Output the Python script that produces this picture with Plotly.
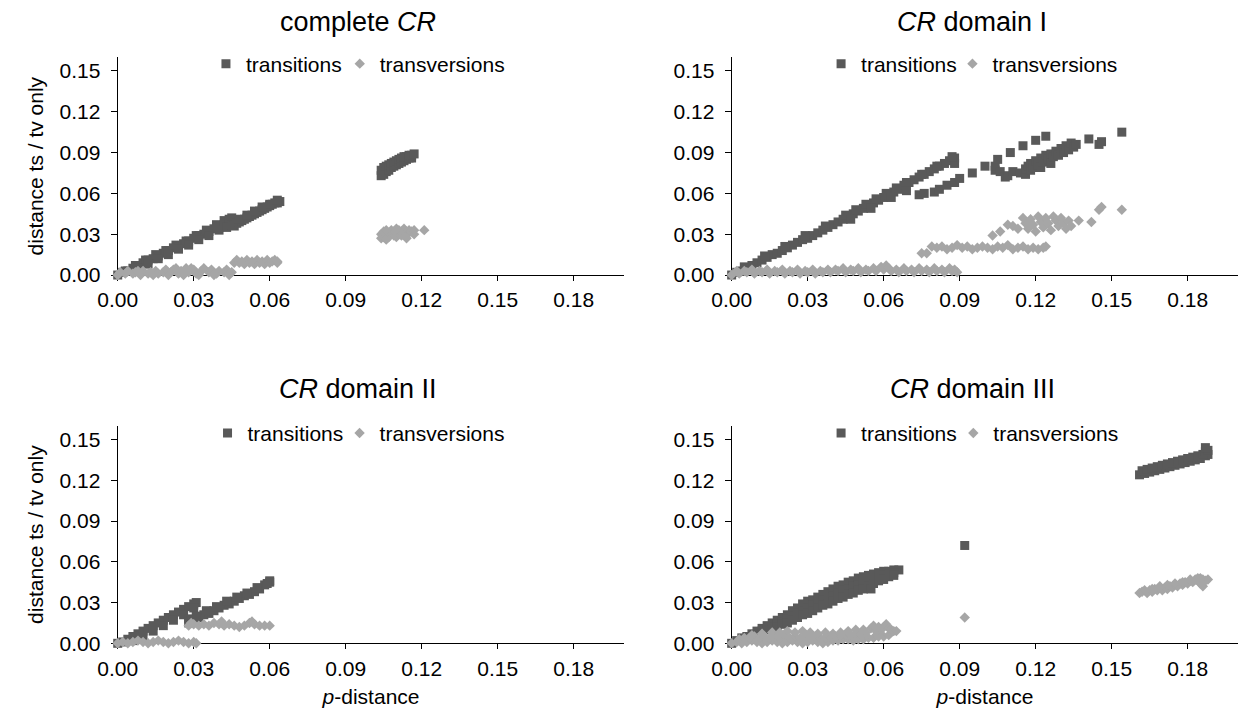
import plotly.graph_objects as go

# ---------------- data ----------------
# complete CR
cr_ts_x = [0.000,0.002,0.004,0.006,0.008,0.010,0.012,0.014,0.016,0.018,0.020,0.022,0.024,0.026,0.028,0.030,0.032,0.034,0.036,0.038,0.040,0.042,0.044,
           0.003,0.007,0.011,0.015,0.019,0.023,0.027,0.031,0.035,0.039,0.042,0.044,0.045,
           0.008,0.012,0.016,0.020,0.024,0.028,0.032,0.036,0.040,0.043,
           0.045,0.046,0.047,0.048,0.049,0.050,0.051,0.052,0.053,0.054,0.055,0.056,0.057,0.058,0.059,0.060,0.061,0.062,0.063,0.064,
           0.048,0.051,0.054,0.057,0.060,0.063,
           0.104,0.104,0.105,0.105,0.106,0.106,0.107,0.107,0.108,0.108,0.109,0.109,0.110,0.110,0.111,0.111,0.112,0.112,0.113,0.113,0.114,0.114,0.115,0.115,0.116,0.116,0.117,0.117,0.121]
cr_ts_y = [0.000,0.002,0.003,0.005,0.007,0.009,0.011,0.012,0.014,0.016,0.018,0.020,0.021,0.023,0.025,0.027,0.029,0.030,0.032,0.034,0.035,0.037,0.038,
           0.003,0.007,0.011,0.015,0.018,0.022,0.025,0.029,0.033,0.037,0.040,0.041,0.042,
           0.005,0.008,0.012,0.015,0.019,0.022,0.026,0.029,0.033,0.035,
           0.037,0.036,0.038,0.039,0.040,0.041,0.042,0.043,0.044,0.045,0.046,0.047,0.048,0.049,0.050,0.051,0.052,0.053,0.053,0.054,
           0.041,0.044,0.047,0.050,0.052,0.055,
           0.073,0.077,0.074,0.079,0.076,0.080,0.077,0.081,0.079,0.082,0.080,0.083,0.081,0.084,0.082,0.085,0.083,0.086,0.084,0.087,0.085,0.087,0.086,0.088,0.086,0.088,0.089]
cr_tv_x = [0.000,0.001,0.003,0.004,0.006,0.007,0.009,0.010,0.012,0.013,0.015,0.016,0.018,0.019,0.021,0.022,0.024,0.025,0.027,0.028,
           0.030,0.031,0.033,0.034,0.036,0.037,0.039,0.040,0.042,0.043,0.045,0.044,0.020,0.026,0.032,0.038,0.014,0.008,0.023,0.029,
           0.046,0.047,0.048,0.049,0.050,0.051,0.052,0.053,0.054,0.055,0.056,0.057,0.058,0.059,0.060,0.061,0.062,0.063,0.063,
           0.104,0.104,0.105,0.105,0.106,0.106,0.107,0.107,0.108,0.108,0.109,0.109,0.110,0.110,0.111,0.111,0.112,0.112,0.113,0.113,
           0.114,0.114,0.115,0.115,0.116,0.117,0.117,0.121,0.106,0.110,0.114]
cr_tv_y = [0.000,0.002,0.001,0.003,0.001,0.002,0.000,0.003,0.001,0.002,0.003,0.001,0.002,0.004,0.002,0.004,0.001,0.003,0.005,0.002,
           0.004,0.001,0.003,0.005,0.002,0.004,0.001,0.003,0.002,0.004,0.002,0.000,0.000,0.000,0.000,0.000,0.000,0.003,0.005,0.005,
           0.009,0.011,0.009,0.010,0.008,0.011,0.009,0.010,0.008,0.011,0.009,0.010,0.008,0.011,0.009,0.010,0.011,0.009,0.010,
           0.027,0.030,0.028,0.032,0.029,0.026,0.031,0.028,0.030,0.033,0.029,0.032,0.031,0.028,0.030,0.033,0.029,0.032,0.031,0.034,
           0.030,0.032,0.031,0.033,0.032,0.030,0.033,0.033,0.033,0.034,0.027]

# CR domain I
d1_ts_x = [0.000,0.002,0.004,0.006,0.008,0.010,0.012,0.014,0.016,0.018,0.020,0.022,0.024,0.026,0.028,0.030,0.032,0.034,0.036,0.038,0.040,0.042,0.044,
           0.046,0.048,0.050,0.052,0.054,0.056,0.058,0.060,0.062,0.064,0.066,0.068,0.070,0.072,0.074,0.076,0.078,0.080,0.082,0.084,0.086,0.088,0.088,
           0.005,0.013,0.021,0.029,0.037,0.045,0.049,0.053,0.057,0.061,0.065,0.069,0.075,0.081,0.087,
           0.047,0.055,0.063,0.069,
           0.074,0.076,0.080,0.082,0.085,0.088,0.090,0.095,0.100,0.105,0.110,0.115,0.120,0.124,
           0.104,0.104,0.106,0.108,0.109,0.111,0.114,0.116,0.116,0.117,0.118,0.118,0.119,0.120,0.121,0.122,0.122,0.123,0.124,0.125,
           0.126,0.126,0.127,0.128,0.129,0.130,0.131,0.132,0.133,0.134,0.135,0.136,0.141,0.145,0.146,0.154]
d1_ts_y = [0.000,0.002,0.003,0.005,0.007,0.009,0.011,0.013,0.015,0.016,0.018,0.020,0.022,0.024,0.026,0.027,0.029,0.031,0.033,0.035,0.037,0.039,0.041,
           0.043,0.045,0.047,0.049,0.051,0.053,0.055,0.057,0.059,0.061,0.063,0.066,0.068,0.070,0.072,0.074,0.076,0.078,0.080,0.082,0.084,0.086,0.082,
           0.006,0.014,0.021,0.029,0.036,0.044,0.048,0.052,0.056,0.060,0.064,0.068,0.074,0.080,0.087,
           0.041,0.049,0.057,0.062,
           0.059,0.060,0.061,0.063,0.066,0.068,0.071,0.075,0.080,0.085,0.090,0.095,0.099,0.102,
           0.077,0.080,0.076,0.072,0.073,0.076,0.075,0.074,0.078,0.080,0.077,0.082,0.079,0.084,0.081,0.086,0.079,0.083,0.088,0.085,
           0.089,0.082,0.087,0.091,0.088,0.093,0.090,0.095,0.092,0.097,0.094,0.096,0.100,0.096,0.098,0.105]
d1_tv_x = [0.000,0.003,0.006,0.009,0.012,0.015,0.018,0.021,0.024,0.027,0.030,0.033,0.036,0.039,0.042,0.045,0.048,0.051,0.054,0.057,0.060,0.063,0.066,0.069,0.072,0.075,0.078,0.081,0.084,0.087,0.089,
           0.002,0.005,0.008,0.011,0.014,0.017,0.020,0.023,0.026,0.029,0.032,0.035,0.038,0.041,0.044,0.047,0.050,0.053,0.056,0.059,0.061,0.062,0.065,0.068,0.071,0.074,0.077,0.080,0.083,0.086,0.088,
           0.075,0.077,
           0.079,0.081,0.083,0.085,0.087,0.089,0.091,0.093,0.095,0.097,0.099,0.101,0.103,0.105,0.107,0.109,0.111,0.113,0.115,0.117,0.119,0.121,0.123,0.124,
           0.103,0.106,0.109,0.111,0.113,0.115,0.116,0.117,0.118,0.119,0.120,0.121,0.122,0.123,0.124,0.125,0.126,0.127,0.128,0.129,0.130,0.131,0.132,0.133,0.134,0.137,0.142,0.145,0.146,0.154]
d1_tv_y = [0.000,0.001,0.002,0.001,0.002,0.001,0.002,0.001,0.002,0.001,0.002,0.001,0.002,0.002,0.003,0.002,0.003,0.002,0.003,0.003,0.004,0.003,0.002,0.003,0.002,0.003,0.002,0.003,0.002,0.003,0.002,
           0.003,0.003,0.004,0.003,0.004,0.003,0.004,0.003,0.004,0.003,0.004,0.003,0.004,0.004,0.005,0.004,0.005,0.004,0.005,0.006,0.007,0.005,0.004,0.005,0.004,0.005,0.004,0.005,0.004,0.005,0.004,
           0.016,0.016,
           0.021,0.020,0.021,0.019,0.020,0.022,0.020,0.021,0.019,0.020,0.021,0.020,0.019,0.021,0.020,0.022,0.019,0.020,0.021,0.019,0.020,0.019,0.020,0.021,
           0.029,0.032,0.037,0.036,0.034,0.042,0.038,0.034,0.041,0.037,0.032,0.043,0.039,0.035,0.042,0.038,0.033,0.043,0.040,0.036,0.042,0.038,0.034,0.040,0.036,0.040,0.039,0.048,0.050,0.048]

# CR domain II
d2_ts_x = [0.000,0.002,0.004,0.006,0.008,0.010,0.012,0.014,0.016,0.018,0.020,0.022,0.024,0.026,0.028,0.030,0.031,
           0.006,0.010,0.014,0.018,0.022,0.026,0.030,
           0.028,0.028,0.030,0.032,0.034,0.036,0.038,0.040,0.042,0.044,0.046,0.048,0.050,0.052,0.054,0.056,0.058,0.060,0.060,
           0.031,0.035,0.039,0.043,0.047,0.051,0.055,0.059]
d2_ts_y = [0.000,0.001,0.003,0.005,0.007,0.009,0.011,0.013,0.015,0.017,0.019,0.021,0.023,0.025,0.027,0.029,0.030,
           0.002,0.005,0.009,0.013,0.017,0.021,0.026,
           0.015,0.018,0.017,0.019,0.021,0.022,0.024,0.026,0.028,0.029,0.031,0.033,0.035,0.036,0.038,0.040,0.043,0.045,0.046,
           0.020,0.024,0.027,0.031,0.034,0.037,0.041,0.044]
d2_tv_x = [0.000,0.002,0.004,0.006,0.008,0.010,0.012,0.014,0.016,0.018,0.020,0.022,0.024,0.026,0.028,0.030,0.031,
           0.028,0.030,0.032,0.034,0.036,0.038,0.040,0.042,0.044,0.046,0.048,0.050,0.052,0.054,0.056,0.058,0.060,0.029,0.041,0.053]
d2_tv_y = [0.000,0.001,0.000,0.001,0.002,0.001,0.000,0.001,0.002,0.001,0.000,0.001,0.002,0.001,0.000,0.001,0.000,
           0.013,0.014,0.013,0.014,0.013,0.015,0.014,0.013,0.014,0.013,0.012,0.013,0.015,0.014,0.013,0.013,0.013,0.015,0.016,0.016]

# CR domain III
d3_ts_x = [0.000,0.002,0.004,0.006,0.008,0.010,0.012,0.014,0.016,0.018,0.020,0.022,0.024,0.026,0.028,0.030,0.032,0.034,0.036,0.038,0.040,0.042,0.044,
           0.046,0.048,0.050,0.052,0.054,0.056,0.058,0.060,0.062,0.064,0.066,
           0.012,0.014,0.016,0.018,0.020,0.022,0.024,0.026,0.028,0.030,0.032,0.034,0.036,0.038,0.040,0.042,0.044,0.046,0.048,0.050,
           0.052,0.054,0.056,0.058,0.060,0.062,0.064,
           0.016,0.018,0.020,0.022,0.024,0.026,0.028,0.030,0.032,0.034,0.036,0.038,0.040,0.042,0.044,0.046,0.048,0.050,0.052,0.054,
           0.055,0.056,0.058,0.060,0.062,0.064,
           0.092,
           0.161,0.163,0.165,0.167,0.169,0.171,0.173,0.175,0.177,0.179,0.181,0.183,0.185,0.187,0.188,
           0.162,0.164,0.166,0.168,0.170,0.172,0.174,0.176,0.178,0.180,0.182,0.184,0.186,0.187,0.188,0.187]
d3_ts_y = [0.000,0.002,0.004,0.005,0.007,0.009,0.011,0.013,0.015,0.017,0.019,0.021,0.024,0.026,0.029,0.031,0.032,0.034,0.036,0.038,0.040,0.042,0.043,
           0.045,0.046,0.048,0.049,0.050,0.051,0.052,0.053,0.053,0.054,0.054,
           0.009,0.010,0.012,0.014,0.016,0.018,0.020,0.022,0.024,0.026,0.028,0.030,0.032,0.033,0.035,0.037,0.039,0.040,0.042,0.043,
           0.045,0.046,0.048,0.049,0.050,0.051,0.052,
           0.010,0.012,0.014,0.015,0.017,0.019,0.021,0.022,0.024,0.026,0.028,0.029,0.031,0.033,0.034,0.036,0.037,0.039,0.040,0.042,
           0.040,0.044,0.046,0.047,0.049,0.050,
           0.072,
           0.124,0.125,0.126,0.127,0.128,0.129,0.130,0.131,0.132,0.133,0.134,0.135,0.136,0.138,0.139,
           0.127,0.128,0.129,0.130,0.131,0.132,0.133,0.134,0.135,0.136,0.137,0.138,0.139,0.141,0.142,0.144]
d3_tv_x = [0.000,0.002,0.004,0.006,0.008,0.010,0.012,0.014,0.016,0.018,0.020,0.022,0.024,0.026,0.028,0.030,0.032,0.034,0.036,0.038,0.040,
           0.042,0.044,0.046,0.048,0.050,0.052,0.054,0.056,0.058,0.060,0.062,
           0.003,0.005,0.007,0.009,0.011,0.013,0.015,0.017,0.019,0.021,0.023,0.025,0.027,0.029,0.031,0.033,0.035,0.037,0.039,0.041,
           0.043,0.045,0.047,0.049,0.051,0.053,
           0.008,0.012,0.016,0.019,0.022,0.025,0.028,0.031,0.034,0.037,0.040,0.043,0.046,0.049,0.052,0.055,0.056,0.057,0.058,0.059,
           0.060,0.061,0.062,0.063,0.064,0.065,
           0.092,
           0.161,0.162,0.164,0.165,0.166,0.167,0.168,0.169,0.170,0.171,0.172,0.173,0.174,0.175,0.176,0.177,0.178,0.179,0.180,0.181,
           0.182,0.183,0.184,0.185,0.186,0.186,0.187,0.188,0.185,
           0.163,0.166,0.169,0.172,0.175,0.178,0.181,0.184]
d3_tv_y = [0.000,0.001,0.000,0.001,0.002,0.001,0.000,0.001,0.002,0.001,0.000,0.001,0.002,0.001,0.000,0.001,0.002,0.001,0.000,0.001,0.002,
           0.002,0.003,0.003,0.002,0.003,0.003,0.004,0.004,0.005,0.005,0.006,
           0.003,0.004,0.004,0.005,0.004,0.005,0.004,0.005,0.004,0.005,0.004,0.005,0.004,0.005,0.004,0.005,0.004,0.004,0.005,0.005,
           0.006,0.006,0.006,0.007,0.007,0.008,
           0.006,0.007,0.008,0.008,0.009,0.008,0.009,0.008,0.007,0.008,0.007,0.008,0.009,0.010,0.010,0.011,0.013,0.009,0.012,0.010,
           0.012,0.014,0.011,0.010,0.009,0.009,
           0.019,
           0.037,0.038,0.037,0.039,0.038,0.040,0.039,0.041,0.039,0.041,0.040,0.042,0.041,0.043,0.042,0.044,0.043,0.045,0.044,0.046,
           0.045,0.047,0.046,0.048,0.042,0.047,0.046,0.047,0.044,
           0.039,0.040,0.042,0.043,0.044,0.045,0.047,0.048]

panels = [
    ("complete <i>CR</i>", cr_ts_x, cr_ts_y, cr_tv_x, cr_tv_y),
    ("<i>CR</i> domain I", d1_ts_x, d1_ts_y, d1_tv_x, d1_tv_y),
    ("<i>CR</i> domain II", d2_ts_x, d2_ts_y, d2_tv_x, d2_tv_y),
    ("<i>CR</i> domain III", d3_ts_x, d3_ts_y, d3_tv_x, d3_tv_y),
]
x_ticks = [0.00, 0.03, 0.06, 0.09, 0.12, 0.15, 0.18]
y_ticks = [0.00, 0.03, 0.06, 0.09, 0.12, 0.15]

# ---------------- layout geometry (pixels) ----------------
W, H = 1241, 720
FONT = "Arial, Liberation Sans, sans-serif"
TS_COLOR = "#595959"
TV_COLOR = "#a6a6a6"

xdom_px = [(99.3, 614.3), (723.3, 1238.3), (99.3, 614.3), (723.3, 1238.3)]
ydom_px = [(58.2, 279.3), (58.2, 279.3), (432.5, 653.3), (432.5, 653.3)]
title_px = [(343.8, 22), (967.8, 22), (343.8, 395), (967.8, 395)]
# left edge of each legend box (transitions, transversions) and vertical centre
legend_px = [((189.0, 325.0), 65), ((814.2, 947.7), 65), ((190.6, 324.8), 440), ((814.2, 948.6), 440)]

fig = go.Figure()
layout = dict(
    width=W, height=H, autosize=False, showlegend=True,
    margin=dict(l=0, r=0, t=0, b=0),
    paper_bgcolor="white", plot_bgcolor="white",
    font=dict(family=FONT, size=21, color="#000000"),
    annotations=[],
)

for i, (title, tsx, tsy, tvx, tvy) in enumerate(panels):
    k = "" if i == 0 else str(i + 1)
    leg_ts = "legend" if i == 0 else "legend" + str(2 * i + 1)
    leg_tv = "legend" + str(2 * i + 2)
    fig.add_trace(go.Scatter(
        x=tsx, y=tsy, mode="markers", name="transitions", showlegend=True,
        marker=dict(symbol="square", size=9, color=TS_COLOR, line=dict(width=0)),
        xaxis="x" + k, yaxis="y" + k, legend=leg_ts, cliponaxis=False))
    fig.add_trace(go.Scatter(
        x=tvx, y=tvy, mode="markers", name="transversions", showlegend=True,
        marker=dict(symbol="diamond", size=8, color=TV_COLOR, line=dict(width=0)),
        xaxis="x" + k, yaxis="y" + k, legend=leg_tv, cliponaxis=False))

    x0, x1 = xdom_px[i]
    y0, y1 = ydom_px[i]
    left = i in (0, 2)
    bottom = i in (2, 3)
    layout["xaxis" + k] = dict(
        domain=[x0 / W, x1 / W], range=[0, 0.20], anchor="y" + k,
        tickmode="array", tickvals=x_ticks, ticktext=[f"{v:.2f}" for v in x_ticks],
        ticks="outside", ticklen=5, tickwidth=1, tickcolor="black",
        showline=True, linecolor="black", linewidth=1, showgrid=False, zeroline=False,
        tickfont=dict(size=21), layer="below traces", ticklabelstandoff=1,
        title=dict(text="<i>p</i>-distance" if bottom else "", font=dict(size=21), standoff=10),
    )
    layout["yaxis" + k] = dict(
        domain=[1 - y1 / H, 1 - y0 / H], range=[0, 0.16], anchor="x" + k,
        tickmode="array", tickvals=y_ticks, ticktext=[f"{v:.2f}" for v in y_ticks],
        ticks="outside", ticklen=6, tickwidth=1, tickcolor="black",
        showline=True, linecolor="black", linewidth=1, showgrid=False, zeroline=False,
        tickfont=dict(size=21), layer="below traces", ticklabelstandoff=6,
        title=dict(text="distance ts / tv only" if left else "", font=dict(size=21), standoff=10),
    )
    (lx_ts, lx_tv), ly = legend_px[i]
    for leg, lx in ((leg_ts, lx_ts), (leg_tv, lx_tv)):
        layout[leg] = dict(
            orientation="h", x=lx / W, y=1 - ly / H, xanchor="left", yanchor="middle",
            bgcolor="rgba(0,0,0,0)", font=dict(size=21), itemwidth=30, tracegroupgap=0,
            visible=True,
        )
    tx, ty = title_px[i]
    layout["annotations"].append(dict(
        text=title, x=tx / W, y=1 - ty / H, xref="paper", yref="paper",
        xanchor="center", yanchor="middle", showarrow=False, font=dict(size=27)))

fig.update_layout(**layout)
fig.write_html(
    "out.html",
    config={"displayModeBar": False},
    post_script="document.body.style.margin='0';document.body.style.overflow='hidden';",
)
